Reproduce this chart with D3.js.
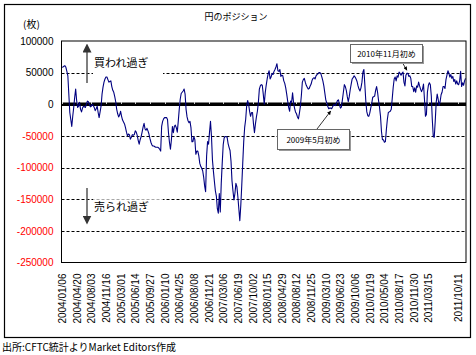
<!DOCTYPE html>
<html>
<head>
<meta charset="utf-8">
<script src="https://cdn.jsdelivr.net/npm/d3@7"></script>
<style>
  html, body { margin: 0; padding: 0; background: #fff; }
  svg { display: block; }
</style>
</head>
<body>
<svg id="chart" width="476" height="355"></svg>
<script>
// ---------------- data ----------------
const titleText = "円のポジション";
const unitText = "(枚)";
const sourceText = "出所:CFTC統計よりMarket Editors作成";
const startDate = "2004/01/06";           // first weekly category (CFTC report)
// weekly net yen position, in thousands of contracts
const netPositionK = [
  58.5,59,60,61,58.5,52,45,16,-13,-24,
  -35,-19,-5,11,24,6,-5,-3,3,-8,
  -12,-6,-3,-4,-5,0,5,4,0,-4,
  -3,0,-2,-5,-10,-7,-3,-13,-21,-12,
  -3,16,27,35,40,43,43,39,35,36,
  37,28,22,19,12,4,-8,-15,-20,-17,
  -11,-19,-25,-28,-31,-37,-44,-50,-47,-48,
  -55,-52,-48,-49,-48,-42,-44,-49,-57,-63,
  -56,-51,-44,-36,-30,-39,-41,-38,-42,-47,
  -54,-60,-64,-66,-66,-67,-68,-68,-68,-69,
  -71,-74,
  -35,-27,-23,-21,-21,-21,-24,-45,-60,-71,
  -56,-35,-45,-35,-33,-37,-44,-27,-8,8,
  17,19,21,24,16,-8,-20,-26,-29,-27,
  -37,-59,-59,-51,-56,-79,-74,-74,-81,-93,
  -98,-101,-105,-115,-129,-138,-82,-59,-63,-44,
  -27,-51,-88,-106,-122,-137,-145,-165,-172,-141,
  -170,-125,-93,-64,-53,-51,-51,-52,-62,-68,
  -73,-90,-121,-137,-151,-141,-125,-130,-146,-165,
  -184,-160,-128,-93,-59,-36,-24,-3,6,0,
  -11,-19,-13,-13,-31,-45,-31,-20,-11,3,
  24,29,31,
  30,16,0,18,30,40,48,53,40,43,
  49,47,52,55,59,64,53,52,55,44,
  46,45,37,33,26,16,5,-5,-11,5,
  3,18,3,-6,-12,-15,-20,-23,-14,-3,
  14,35,39,41,35,30,27,24,25,29,
  32,38,41,42,40,45,47,48,50,50,
  48,43,37,29,18,7,2,-3,-7,-6,
  -6,-7,-4,-1,-1,-2,2,6,7,-1,
  -6,-4,7,19,31,28,22,12,4,12,
  23,32,40,42,45,43,40,36,29,24,
  21,26,35,51,55,
  30,4,-12,-18,-19,-14,-6,1,11,12,
  13,22,28,19,6,-5,-19,-43,-56,-56,
  -60,-59,-40,-24,-13,-12,-11,-8,9,27,
  40,43,37,45,43,51,49,46,49,51,
  35,29,46,49,49,44,45,41,28,28,
  20,26,19,29,27,35,29,24,20,24,
  32,8,-19,-16,19,30,34,31,13,-24,
  -51,-52,-27,3,16,8,-2,4,15,19,
  28,28,25,39,46,53,49,43,47,41,
  44,36,39,32,37,32,31,37,52,28,
  34,30,37,41
];
const yTicks = [100000, 50000, 0, -50000, -100000, -150000, -200000, -250000];
const gridValues = [50000, -50000, -100000, -150000, -200000];
const xTickLabels = [
  "2004/01/06","2004/04/20","2004/08/03","2004/11/16","2005/03/01","2005/06/14","2005/09/27",
  "2006/01/10","2006/04/25","2006/08/08","2006/11/21","2007/03/06","2007/06/19","2007/10/02",
  "2008/01/15","2008/04/29","2008/08/12","2008/11/25","2009/03/10","2009/06/23","2009/10/06",
  "2010/01/19","2010/05/04","2010/08/17","2010/11/30","2011/03/15","2011/10/11"
];
const notes = [
  { text: "2009年5月初め", date: "2009/04/14" },
  { text: "2010年11月初め", date: "2010/10/12" }
];
const overBought = "買われ過ぎ";
const overSold = "売られ過ぎ";

// ---------------- build ----------------
const parse = d3.utcParse("%Y/%m/%d");
const fmt = d3.utcFormat("%Y/%m/%d");
const t0 = parse(startDate);
const dates = netPositionK.map((_, i) => fmt(d3.utcDay.offset(t0, 7 * i)));
const data = netPositionK.map((v, i) => ({ date: dates[i], value: v * 1000 }));

const svg = d3.select("#chart");
const L = 61.5, R = 466, T = 41, B = 262.5;
const FONT = "'Liberation Sans', Arial, 'Noto Sans CJK JP', sans-serif";
const JFONT = "'Noto Sans CJK JP', 'Liberation Sans', sans-serif";

const x = d3.scalePoint().domain(dates).range([L, R]).padding(0.5);
const y = d3.scaleLinear().domain([-250000, 100000]).range([B, T]);

// outer frame
svg.append("rect").attr("x", 4.5).attr("y", 4.5).attr("width", 466).attr("height", 333)
  .attr("fill", "#fff").attr("stroke", "#000").attr("stroke-width", 1.2);

// title
svg.append("text").attr("x", 236).attr("y", 20).attr("text-anchor", "middle")
  .attr("font-family", JFONT).attr("font-size", 9).text(titleText);

// unit
svg.append("text").attr("x", 23).attr("y", 28)
  .attr("font-family", JFONT).attr("font-size", 10).text(unitText);

// gridlines
svg.append("g").selectAll("line").data(gridValues).join("line")
  .attr("x1", L).attr("x2", R)
  .attr("y1", d => Math.round(y(d)) + 0.5).attr("y2", d => Math.round(y(d)) + 0.5)
  .attr("stroke", "#000").attr("stroke-width", 1).attr("stroke-dasharray", "3,2");

// y axis labels
const yAxis = d3.axisLeft(y).tickValues(yTicks).tickSize(0).tickPadding(8)
  .tickFormat(d => d < 0 ? "-" + Math.abs(d) : String(d));
const yg = svg.append("g").attr("transform", `translate(${L},0)`).call(yAxis);
yg.select(".domain").remove();
yg.selectAll("text").attr("font-family", FONT).attr("font-size", 10)
  .attr("fill", d => d < 0 ? "#ff0000" : "#000");

// x axis labels
const xAxis = d3.axisBottom(x).tickValues(xTickLabels).tickSize(0).tickFormat(d => d);
const xg = svg.append("g").attr("transform", `translate(0,${B})`).call(xAxis);
xg.select(".domain").remove();
xg.selectAll("text").attr("font-family", FONT).attr("font-size", 10)
  .attr("text-anchor", "end").attr("dy", "0.35em")
  .attr("transform", "translate(0,11) rotate(-90)").attr("x", 0).attr("y", 0);

// textbox backgrounds (over gridlines)
svg.append("rect").attr("x", 93).attr("y", 54).attr("width", 70).attr("height", 20).attr("fill", "#fff");
svg.append("rect").attr("x", 93).attr("y", 193).attr("width", 70).attr("height", 22)
  .attr("fill", "#fff").attr("opacity", 0.65);

// zero axis (thick)
svg.append("line").attr("x1", L).attr("x2", R).attr("y1", y(0)).attr("y2", y(0))
  .attr("stroke", "#000").attr("stroke-width", 3.5);
svg.append("g").selectAll("line").data(xTickLabels).join("line")
  .attr("x1", d => Math.round(x(d)) + 0.5).attr("x2", d => Math.round(x(d)) + 0.5)
  .attr("y1", y(0) - 2).attr("y2", y(0) - 0.5)
  .attr("stroke", "#fff").attr("stroke-width", 1);

// series line
const line = d3.line().x(d => x(d.date)).y(d => y(d.value));
svg.append("path").datum(data).attr("d", line)
  .attr("fill", "none").attr("stroke", "#000080").attr("stroke-width", 1.1)
  .attr("stroke-linejoin", "round");

// plot frame
svg.append("rect").attr("x", L).attr("y", T).attr("width", R - L).attr("height", B - T)
  .attr("fill", "none").attr("stroke", "#000").attr("stroke-width", 1);

// over-bought / over-sold arrows
const defs = svg.append("defs");
defs.append("marker").attr("id", "ah").attr("viewBox", "0 0 10 10").attr("refX", 5).attr("refY", 5)
  .attr("markerWidth", 6).attr("markerHeight", 6).attr("orient", "auto-start-reverse")
  .append("path").attr("d", "M0,0 L10,5 L0,10 z").attr("fill", "#333");
defs.append("marker").attr("id", "ah2").attr("viewBox", "0 0 10 10").attr("refX", 9).attr("refY", 5)
  .attr("markerWidth", 5).attr("markerHeight", 5).attr("orient", "auto")
  .append("path").attr("d", "M0,0 L10,5 L0,10 z").attr("fill", "#000");

svg.append("line").attr("x1", 87).attr("x2", 87).attr("y1", 83).attr("y2", 48)
  .attr("stroke", "#555").attr("stroke-width", 1.5).attr("marker-end", "url(#ah)");
svg.append("line").attr("x1", 87).attr("x2", 87).attr("y1", 188).attr("y2", 220)
  .attr("stroke", "#555").attr("stroke-width", 1.5).attr("marker-end", "url(#ah)");

svg.append("text").attr("x", 94).attr("y", 67).attr("font-family", JFONT).attr("font-size", 11)
  .text(overBought);
svg.append("text").attr("x", 94).attr("y", 211).attr("font-family", JFONT).attr("font-size", 11)
  .text(overSold);

// callouts
const boxes = [
  { note: notes[0], bx: 277, by: 129, bw: 72, bh: 20, lx: 317, ly: 129 },
  { note: notes[1], bx: 350, by: 44, bw: 72, bh: 18, lx: 402, ly: 62 }
];
boxes.forEach(b => {
  const i = dates.indexOf(b.note.date);
  const tx = x(b.note.date), ty = y(data[i].value);
  const tipY = b.by > ty ? ty + 3 : ty - 3;
  svg.append("line").attr("x1", b.lx).attr("y1", b.ly).attr("x2", tx).attr("y2", tipY)
    .attr("stroke", "#000").attr("stroke-width", 0.8).attr("marker-end", "url(#ah2)");
  svg.append("rect").attr("x", b.bx + 2).attr("y", b.by + 2).attr("width", b.bw).attr("height", b.bh)
    .attr("fill", "#999");
  svg.append("rect").attr("x", b.bx + 0.5).attr("y", b.by + 0.5).attr("width", b.bw).attr("height", b.bh)
    .attr("fill", "#fff").attr("stroke", "#666").attr("stroke-width", 1);
  svg.append("text").attr("x", b.bx + b.bw / 2 + 0.5).attr("y", b.by + b.bh / 2 + 3.5)
    .attr("text-anchor", "middle").attr("font-family", JFONT).attr("font-size", 8)
    .text(b.note.text);
});

// source
svg.append("text").attr("x", 2).attr("y", 351).attr("font-family", JFONT).attr("font-size", 10)
  .text(sourceText);
</script>
</body>
</html>
